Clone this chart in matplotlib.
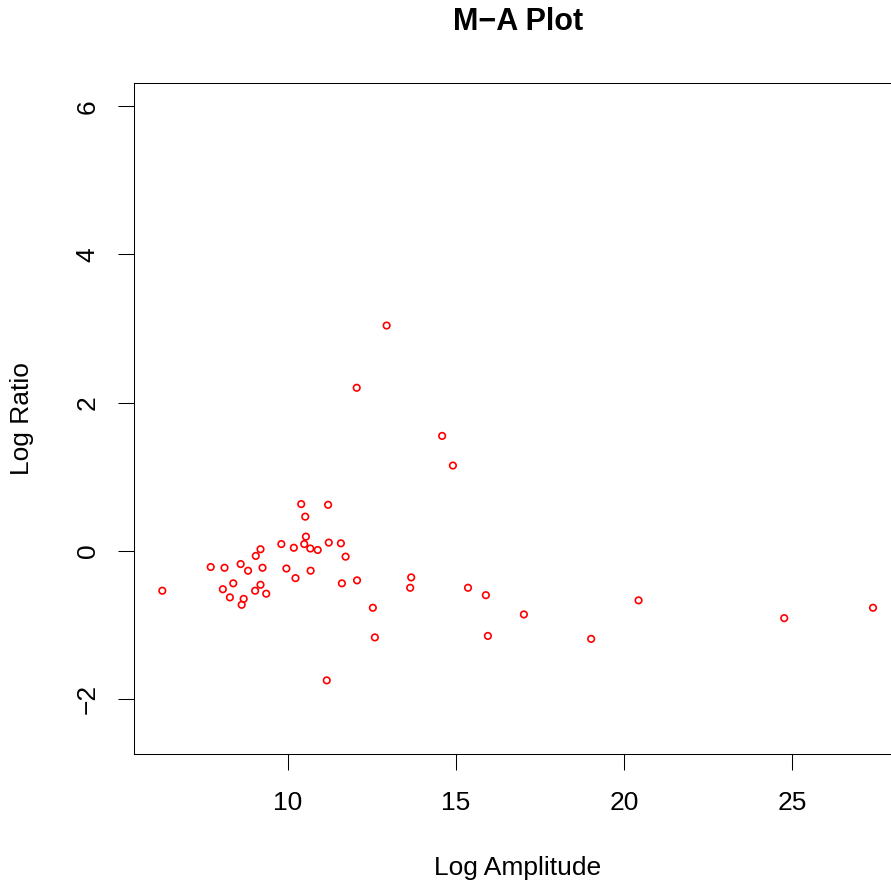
import matplotlib
matplotlib.use('Agg')
import matplotlib.pyplot as plt

# M-A values
log_amp = [6.27, 7.71, 8.12, 8.07, 8.38, 8.28, 8.60, 8.69, 8.63, 8.82,
           9.05, 9.19, 9.25, 9.19, 9.03, 9.36, 9.81, 9.96, 10.18, 10.23,
           10.40, 10.52, 10.54, 10.49, 10.67, 10.68, 10.89, 11.20, 11.22, 11.16,
           11.58, 11.72, 11.61, 12.06, 12.05, 12.53, 12.59, 12.94, 13.67, 13.64,
           14.59, 14.91, 15.36, 15.89, 15.95, 17.02, 19.02, 20.43, 24.76, 27.40]
log_ratio = [-0.54, -0.22, -0.23, -0.52, -0.44, -0.63, -0.18, -0.65, -0.73, -0.27,
             -0.07, 0.02, -0.23, -0.46, -0.54, -0.58, 0.09, -0.24, 0.04, -0.37,
             0.63, 0.46, 0.19, 0.09, 0.03, -0.27, 0.01, 0.62, 0.11, -1.75,
             0.10, -0.08, -0.44, -0.40, 2.20, -0.77, -1.17, 3.04, -0.36, -0.50,
             1.55, 1.15, -0.50, -0.60, -1.15, -0.86, -1.19, -0.67, -0.91, -0.77]
x_ticks = [10, 15, 20, 25]
y_ticks = [-2, 0, 2, 4, 6]

plt.rcParams['font.family'] = ['Liberation Sans', 'DejaVu Sans']
W, H = 891, 884
fig = plt.figure(figsize=(W / 100, H / 100), dpi=100)
# plot box runs past the right edge of the picture, like the original
left, right, top, bottom = 133.7, 901.6, 83.3, 753.7
ax = fig.add_axes([left / W, 1 - bottom / H, (right - left) / W, (bottom - top) / H])

ax.scatter(log_amp, log_ratio, s=22, facecolors='none', edgecolors='red', linewidths=1.2)
ax.set_xlim(5.42, 28.25)
ax.set_ylim(-2.74, 6.31)
ax.set_xticks(x_ticks)
ax.set_yticks(y_ticks)
ax.tick_params(direction='out', length=11.5, width=0.75, labelsize=19)
ax.tick_params(axis='x', pad=15)
ax.tick_params(axis='y', pad=13)
for lab in ax.get_yticklabels():
    lab.set_rotation(90)
    lab.set_va('center')
for s in ax.spines.values():
    s.set_linewidth(0.75)

fig.text((left + right) / 2 / W, 1 - 22 / H, 'M\u2212A Plot', ha='center', va='center',
         fontsize=22, fontweight='bold')
fig.text((left + right) / 2 / W, 1 - 868 / H, 'Log Amplitude', ha='center', va='center',
         fontsize=19)
fig.text(22 / W, 1 - (top + bottom) / 2 / H, 'Log Ratio', ha='center', va='center',
         rotation=90, fontsize=19)

fig.savefig('out.png', dpi=100)
